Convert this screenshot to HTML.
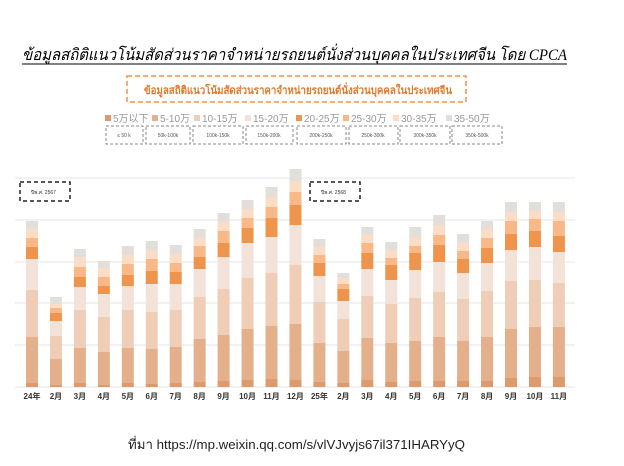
<!DOCTYPE html>
<html><head><meta charset="utf-8"><style>body{margin:0;background:#fff}svg{display:block}</style></head><body>
<svg width="624" height="466" viewBox="0 0 624 466" xmlns="http://www.w3.org/2000/svg">
<text x="22" y="60" font-family="Liberation Serif, Noto Serif CJK SC, serif" font-style="italic" font-size="16" textLength="545" lengthAdjust="spacingAndGlyphs" fill="#000">ข้อมูลสถิติแนวโน้มสัดส่วนราคาจำหน่ายรถยนต์นั่งส่วนบุคคลในประเทศจีน โดย CPCA</text>
<line x1="22" y1="64" x2="567" y2="64" stroke="#000" stroke-width="1"/>
<rect x="127" y="76" width="339" height="26" fill="none" stroke="#f0924a" stroke-width="1.5" stroke-dasharray="5,3"/>
<text x="298" y="94" text-anchor="middle" font-family="Liberation Sans, sans-serif" font-weight="bold" font-size="11" fill="#e07a2c" textLength="308" lengthAdjust="spacingAndGlyphs">ข้อมูลสถิติแนวโน้มสัดส่วนราคาจำหน่ายรถยนต์นั่งส่วนบุคคลในประเทศจีน</text>
<g font-family="Liberation Sans, Noto Sans CJK SC, sans-serif" font-size="10" fill="#999">
<rect x="105" y="115" width="6" height="6" fill="#dd9a6c"/><text x="113" y="122">5万以下</text>
<rect x="152" y="115" width="6" height="6" fill="#e4b08c"/><text x="160" y="122">5-10万</text>
<rect x="194" y="115" width="6" height="6" fill="#efcdb6"/><text x="202" y="122">10-15万</text>
<rect x="245" y="115" width="6" height="6" fill="#f2e2d8"/><text x="253" y="122">15-20万</text>
<rect x="296" y="115" width="6" height="6" fill="#ef944d"/><text x="304" y="122">20-25万</text>
<rect x="343" y="115" width="6" height="6" fill="#f9b888"/><text x="351" y="122">25-30万</text>
<rect x="393" y="115" width="6" height="6" fill="#fbdcc4"/><text x="401" y="122">30-35万</text>
<rect x="446" y="115" width="6" height="6" fill="#e2dfda"/><text x="454" y="122">35-50万</text>
</g>
<g fill="none" stroke="#888" stroke-dasharray="3,2">
<rect x="106" y="126" width="37" height="18"/><rect x="146" y="126" width="44" height="18"/><rect x="193" y="126" width="50" height="18"/><rect x="246" y="126" width="47" height="18"/><rect x="297" y="126" width="49" height="18"/><rect x="349" y="126" width="49" height="18"/><rect x="400" y="126" width="50" height="18"/><rect x="452" y="126" width="50" height="18"/>
</g>
<g font-family="Liberation Sans, sans-serif" font-size="5" fill="#555" text-anchor="middle">
<text x="124" y="137">≤ 50 k</text><text x="168" y="137">50k-100k</text><text x="218" y="137">100k-150k</text><text x="269" y="137">150k-200k</text><text x="321" y="137">200k-250k</text><text x="373" y="137">250k-300k</text><text x="425" y="137">300k-350k</text><text x="477" y="137">350k-500k</text>
</g>
<g stroke="#e6e6e6" stroke-width="1">
<line x1="15" y1="178" x2="575" y2="178"/><line x1="15" y1="220" x2="575" y2="220"/><line x1="15" y1="262" x2="575" y2="262"/><line x1="15" y1="303" x2="575" y2="303"/><line x1="15" y1="345" x2="575" y2="345"/><line x1="15" y1="387" x2="575" y2="387"/>
</g>
<g id="bars"></g>
<g fill="none" stroke="#222" stroke-width="1.5" stroke-dasharray="4,3">
<rect x="20" y="182" width="50" height="19"/><rect x="310" y="182" width="50" height="19"/>
</g>
<g font-family="Liberation Sans, sans-serif" font-size="5" fill="#333"><text x="31" y="194">ปีพ.ศ. 2567</text><text x="321" y="194">ปีพ.ศ. 2568</text></g>
<g font-family="Liberation Sans, Noto Sans CJK SC, sans-serif" font-size="8" font-weight="bold" fill="#333" text-anchor="middle" id="lbl"></g>
<text x="128" y="449" font-family="Liberation Sans, sans-serif" font-size="13" fill="#222" textLength="337" lengthAdjust="spacingAndGlyphs">ที่มา https://mp.weixin.qq.com/s/vlVJvyjs67il371IHARYyQ</text>
<script>
var d=[[221,229,238,247,259,290,337,383],[297,304,308,313,321,336,359,385],[249,257,267,277,287,310,348,383],[261,268,277,286,294,317,352,385],[246,255,264,275,286,310,348,383],[241,251,259,271,284,312,349,384],[245,254,263,272,284,310,347,383],[229,238,246,257,269,297,339,382],[213,222,231,243,257,289,335,381],[200,209,218,228,243,278,329,380],[187,197,207,218,237,273,326,379],[169,181,192,205,225,265,324,380],[239,247,255,263,276,302,343,382],[273,278,284,289,301,319,351,383],[227,235,243,253,269,296,338,380],[242,250,258,265,280,304,343,382],[227,237,246,253,270,298,341,381],[215,225,235,245,262,292,337,381],[234,243,251,259,273,299,341,381],[221,229,238,248,263,291,337,381],[202,212,221,234,250,281,329,378],[202,211,219,231,247,280,327,377],[202,212,221,236,252,283,327,377]];
var c=["#e2dfda","#fbdcc4","#f9b888","#ef944d","#f2e2d8","#efcdb6","#e4b08c","#dd9a6c"];
var L=["24年","2月","3月","4月","5月","6月","7月","8月","9月","10月","11月","12月","25年","2月","3月","4月","5月","6月","7月","8月","9月","10月","11月"];
var ns="http://www.w3.org/2000/svg",g=document.getElementById("bars"),lg=document.getElementById("lbl");
d.forEach(function(b,i){var x=32+i*23.95-6;for(var k=0;k<8;k++){var y0=b[k],y1=k<7?b[k+1]:387;var r=document.createElementNS(ns,"rect");r.setAttribute("x",x);r.setAttribute("y",y0);r.setAttribute("width",12);r.setAttribute("height",y1-y0);r.setAttribute("fill",c[k]);g.appendChild(r);}
var t=document.createElementNS(ns,"text");t.setAttribute("x",x+6);t.setAttribute("y",399);t.textContent=L[i];lg.appendChild(t);});
</script>
</svg>
</body></html>
